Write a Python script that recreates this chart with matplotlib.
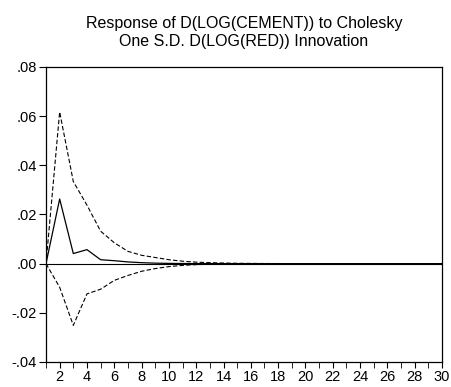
import numpy as np
import matplotlib
matplotlib.use('Agg')
import matplotlib.pyplot as plt
from matplotlib.ticker import FuncFormatter

plt.rcParams['font.family'] = ['Liberation Sans', 'DejaVu Sans']

# Импульсный отклик и доверительные границы (±2 S.E.), периоды 1..30
periods = list(range(1, 31))
response = [0.0, 0.0263, 0.0041, 0.0057, 0.0016, 0.0012, 0.0007, 0.0004, 0.0002, 0.0001,
            0.00006, 0.00003, 0.00002, 0.00001, 0.0, 0.0, 0.0, 0.0, 0.0, 0.0,
            0.0, 0.0, 0.0, 0.0, 0.0, 0.0, 0.0, 0.0, 0.0, 0.0]
upper = [0.0, 0.0617, 0.0334, 0.0238, 0.0132, 0.0085, 0.0050, 0.0034, 0.0025, 0.0016,
         0.0010, 0.0006, 0.0004, 0.00025, 0.00015, 0.0001, 0.00006, 0.00004, 0.00002, 0.00001,
         0.0, 0.0, 0.0, 0.0, 0.0, 0.0, 0.0, 0.0, 0.0, 0.0]
lower = [0.0, -0.0096, -0.0251, -0.0123, -0.0104, -0.0068, -0.0048, -0.0031, -0.0020, -0.0012,
         -0.0007, -0.0004, -0.00025, -0.00015, -0.0001, -0.00006, -0.00004, -0.00002, -0.00001, 0.0,
         0.0, 0.0, 0.0, 0.0, 0.0, 0.0, 0.0, 0.0, 0.0, 0.0]
y_ticks = [-0.04, -0.02, 0.00, 0.02, 0.04, 0.06, 0.08]


def eviews_fmt(v, pos):
    # формат как в EViews: .08, -.02 (без нуля перед точкой)
    s = '%.2f' % abs(v)
    return ('-' if v < -1e-9 else '') + s[1:]


fig = plt.figure(figsize=(4.51, 3.87), dpi=100)
ax = fig.add_axes([0.102, 0.0646, 0.878, 0.7624])

ax.axhline(0, color='black', linewidth=0.8)
ax.plot(periods, response, color='black', linewidth=0.9)
ax.plot(periods, upper, color='black', linewidth=0.8, linestyle=(0, (4, 2)))
ax.plot(periods, lower, color='black', linewidth=0.8, linestyle=(0, (4, 2)))

ax.set_xlim(1, 30)
ax.set_ylim(-0.04, 0.08)
ax.set_yticks(y_ticks)
ax.yaxis.set_major_formatter(FuncFormatter(eviews_fmt))
ax.set_xticks(range(2, 31, 2))
ax.set_xticks(range(1, 31), minor=True)
ax.tick_params(axis='both', direction='out', labelsize=10.5, width=0.8, colors='black')
ax.tick_params(axis='x', which='both', length=4, pad=1.5)
ax.tick_params(axis='y', length=5, pad=1.5)
for s in ax.spines.values():
    s.set_linewidth(0.9)

ax.set_title('Response of D(LOG(CEMENT)) to Cholesky\nOne S.D. D(LOG(RED)) Innovation',
             fontsize=11.5, pad=15, linespacing=1.3)

plt.savefig('out.png', dpi=100)
